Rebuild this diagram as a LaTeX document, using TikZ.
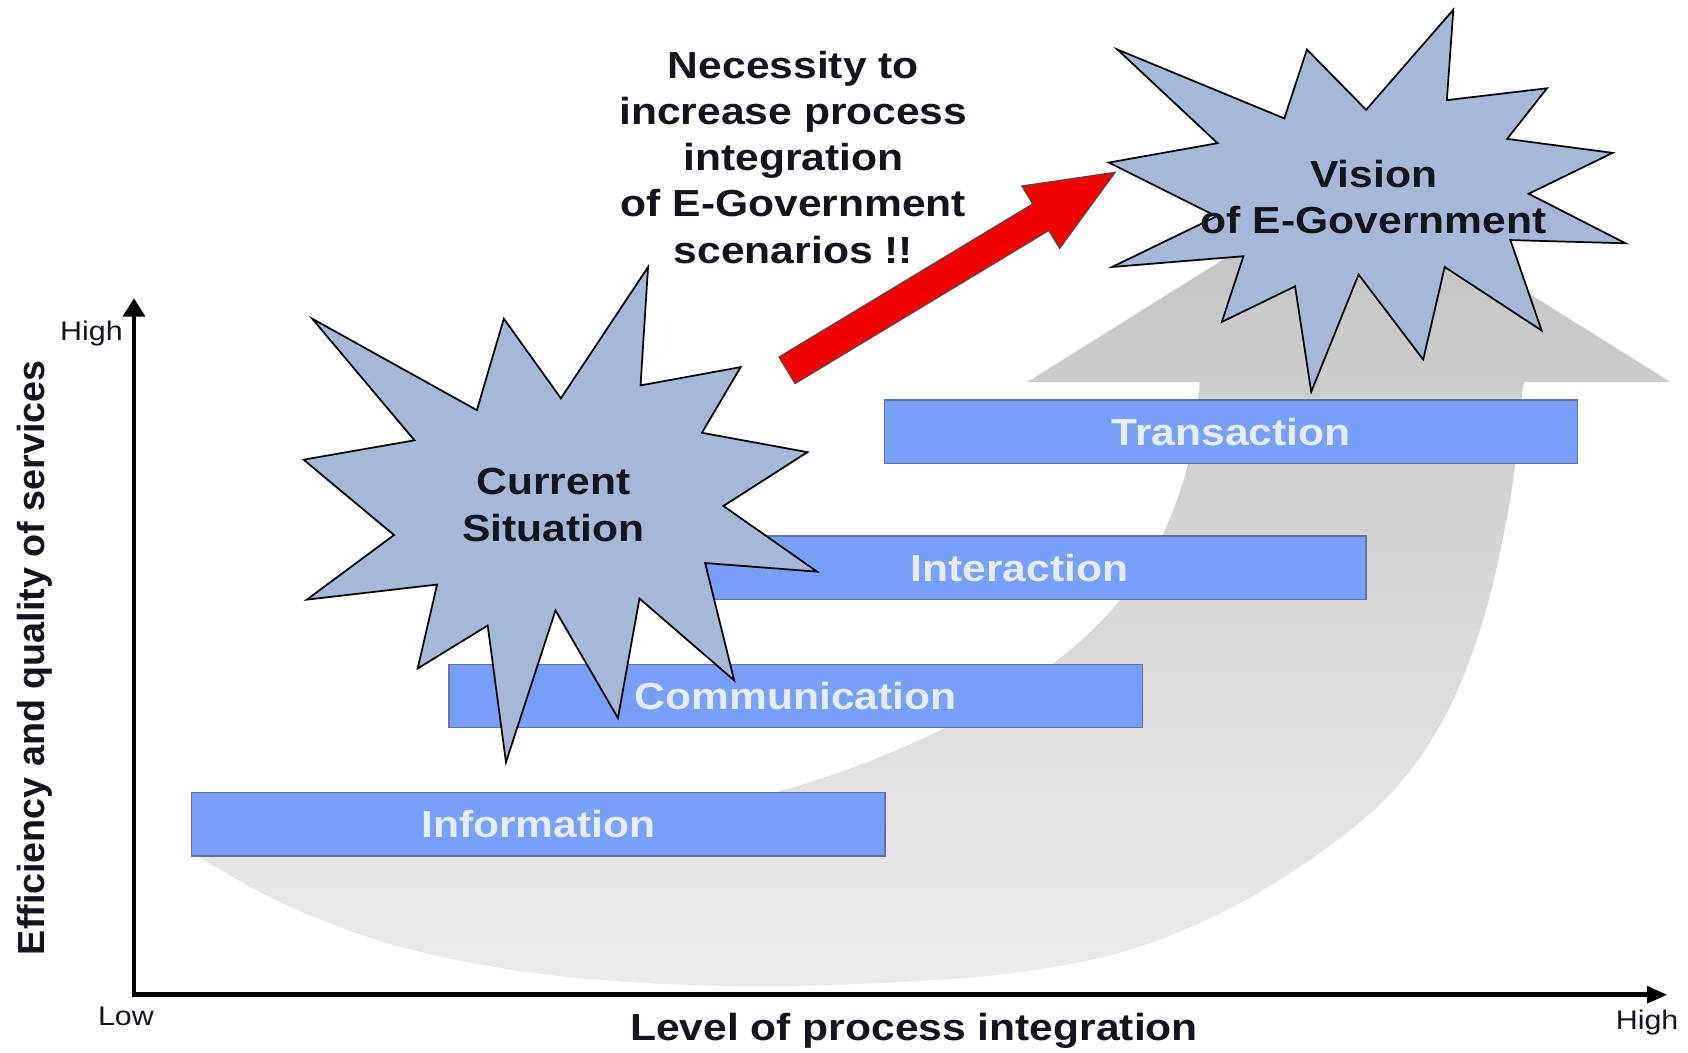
\documentclass[tikz,border=0pt]{standalone}
\usepackage{fontspec}
\setmainfont{Liberation Sans}[FakeStretch=1.13]
\newfontfamily\ylabelfont{Liberation Sans}
\usetikzlibrary{arrows.meta}
\definecolor{barfill}{RGB}{120,160,248}
\definecolor{barline}{RGB}{95,115,165}
\definecolor{bartext}{RGB}{228,236,255}
\definecolor{starfill}{RGB}{165,184,216}
\definecolor{arrowred}{RGB}{240,0,0}
\definecolor{txt}{RGB}{20,20,30}
\begin{document}
\begin{tikzpicture}[x=1pt,y=-1pt,
  bigtxt/.style={font=\fontsize{35}{43}\selectfont\bfseries, text=txt, inner sep=0pt},
  levelbar/.style={draw=barline, line width=1.2pt, fill=barfill, minimum width=644pt, minimum height=59pt, inner sep=0pt, text=bartext, font=\fontsize{35}{42}\selectfont\bfseries},
  burst/.style={draw=black, line width=1.6pt, fill=starfill, line join=miter},
  axisline/.style={line width=4.5pt, line join=miter},
  lbl/.style={font=\fontsize{25}{30}\selectfont, text=txt, inner sep=0pt},
]
\useasboundingbox (0,0) rectangle (1568,978);

% big curved gray arrow
\path[top color=black!24, bottom color=black!8]
  (178,792) -- plot[smooth, tension=0.6] coordinates {(178,792) (260,838) (360,876) (470,900) (580,912) (700,916) (820,913) (940,904) (1050,882) (1150,840) (1240,782) (1300,728) (1345,660) (1378,575) (1400,480) (1410,410) (1414,362)}
  -- (1416,355) -- (1552,355) -- (1253,168) -- (954,355) -- (1114,355)
  -- plot[smooth, tension=0.6] coordinates {(1114,362) (1106,420) (1094,462) (1076,505) (1050,545) (1020,580) (980,615) (930,650) (870,680) (800,710) (720,736) (600,765) (450,782) (300,790) (178,792)}
  -- cycle;

% axes
\coordinate (O) at (124.5,924);
\coordinate (ytop) at (124.5,277);
\coordinate (xend) at (1549,924);
\draw[axisline, {Triangle[length=17pt,width=20pt]}-{Triangle[length=19pt,width=15pt]}] (ytop) -- (O) -- (xend);

\node[lbl] (yhigh) at (85,310) {High};
\node[lbl] (xlow) at (117,944) {Low};
\node[lbl] (xhigh) at (1530,950) {High};
\node[font=\fontsize{35}{42}\selectfont\bfseries, text=txt, inner sep=0pt] (xlabel) at (849,958) {Level of process integration};
\node[font=\ylabelfont\fontsize{35}{42}\selectfont\bfseries, text=txt, inner sep=0pt, rotate=90] (ylabel) at (32,611) {Efficiency and quality of services};

% level bars
\node[levelbar] (info) at (500,765.5) {Information};
\node[levelbar] (comm) at (739,646.5) {Communication};
\node[levelbar] (inter) at (947,527.5) {Interaction};
\node[levelbar] (trans) at (1143.5,401) {Transaction};

% current situation star
\draw[burst] (602,248) -- (595,358) -- (688,341) -- (652,402) -- (750,420) -- (672,470) -- (759,531) -- (655,523) -- (682,632) -- (594,556) -- (574,667) -- (516,567) -- (470,708) -- (453,581) -- (388,621) -- (406,543) -- (285,557) -- (366,497) -- (282,427) -- (385,409) -- (290,296) -- (443,381) -- (468,296) -- (521,370) -- cycle;
\node[bigtxt, align=center] (cur) at (514,469) {Current\\Situation};

% red arrow
\draw[fill=arrowred, draw=black!70, line width=1pt, line join=miter]
  (723.5,331.6) -- (959.2,189.4) -- (949.1,172.7) -- (1036,160) -- (984.3,230.9) -- (974.2,214.2) -- (738.5,356.4) -- cycle;

% vision star
\draw[burst] (1350,9) -- (1344,93) -- (1437,82) -- (1400,129) -- (1498,142) -- (1420,180) -- (1510,226) -- (1403,223) -- (1432,307) -- (1342,248) -- (1322,334) -- (1262,255) -- (1218,364) -- (1203,266) -- (1135,299) -- (1155,238) -- (1033,248) -- (1130,201) -- (1030,151) -- (1131,133) -- (1038,46) -- (1193,110) -- (1214,46) -- (1269,102) -- cycle;
\node[bigtxt, align=center] (vis) at (1276,183) {Vision\\of E-Government};

% necessity text
\node[bigtxt, align=center] (need) at (737,146) {Necessity to\\increase process\\integration\\of E-Government\\scenarios !!};
\end{tikzpicture}
\end{document}
